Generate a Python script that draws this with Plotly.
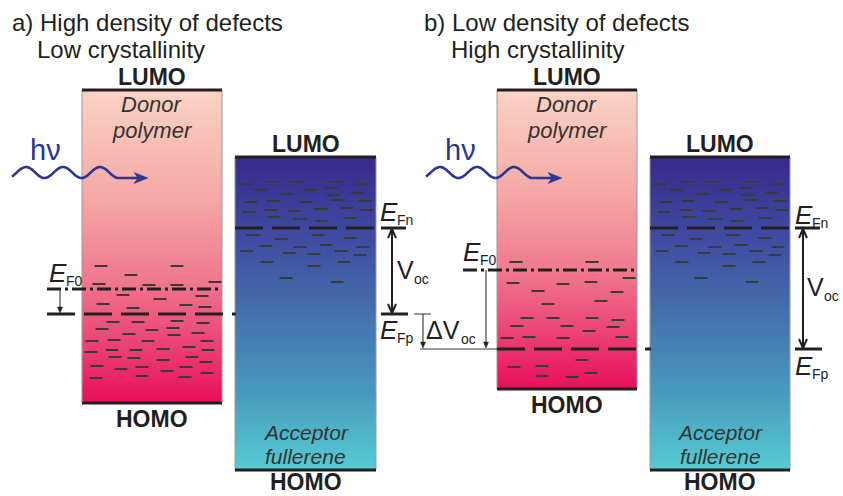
import numpy as np
import plotly.graph_objects as go

W, H = 843, 496

# ---------------- data (energy-diagram coordinates, y grows downward) ----------------
panels = ["a", "b"]
donor_left = [82, 497]
donor_right = [222, 637]
donor_lumo = [90, 90]
donor_homo = [403, 389]
acceptor_left = [235, 650]
acceptor_right = [376, 790]
acceptor_lumo = [157, 157]
acceptor_homo = [470, 470]
ef0_level = [289, 270]          # dark Fermi level in donor
efp_level = [314, 349]          # quasi-Fermi level of holes
efn_level = [228, 228]          # quasi-Fermi level of electrons

titles_line1 = ["a) High density of defects", "b) Low density of defects"]
titles_line2 = ["Low crystallinity", "High crystallinity"]

# defect (trap) states in the donor, panel a
donor_a_x = [101, 177, 131, 99, 149, 177, 215, 123, 202, 160, 103, 186, 205, 133, 113, 138, 177, 203,
             102, 152, 173, 129, 174, 198, 92, 114, 148, 207, 91, 112, 136, 163, 189, 208, 115, 134,
             192, 163, 206, 97, 121, 142, 186, 167, 207, 96, 142, 185]
donor_a_y = [266, 266, 275, 284, 285, 285, 282, 295, 296, 299, 304, 305, 307, 308, 322, 322, 321, 323,
             329, 330, 328, 334, 335, 333, 341, 340, 341, 341, 352, 350, 350, 349, 347, 350, 357, 358,
             357, 360, 362, 366, 369, 367, 367, 371, 373, 378, 376, 377]
# defect states in the donor, panel b
donor_b_x = [516, 592, 513, 563, 591, 629, 538, 617, 601, 548, 527, 553, 592, 618, 517, 567, 613, 589,
             507, 529, 563, 622, 582, 514, 542, 591, 542, 572]
donor_b_y = [262, 262, 283, 284, 282, 278, 291, 292, 301, 304, 318, 318, 318, 320, 326, 326, 327, 331,
             338, 337, 338, 337, 360, 367, 366, 373, 376, 377]
# defect states in the acceptor (offset from the acceptor's left edge), same in both panels
acc_dx = [10, 37, 62, 102, 127, 26, 75, 96, 52, 98, 122, 16, 38, 71, 102, 130, 14, 36, 59, 86, 112, 132,
          39, 65, 87, 115, 18, 46, 83, 115, 31, 65, 91, 128, 12, 54, 79, 106, 125, 32, 79, 109, 51, 102]
acc_y = [184, 182, 182, 182, 184, 190, 190, 188, 194, 195, 193, 202, 201, 202, 200, 201, 212, 210, 211,
         209, 208, 210, 217, 219, 221, 218, 235, 239, 235, 238, 246, 247, 245, 247, 251, 253, 254, 251,
         255, 262, 266, 262, 278, 282]

# ---------------- styling ----------------
FONT = "Liberation Sans, Arial, sans-serif"
INK = "#231f20"
DEF_COL = "#3a3a3a"
BLUE = "#2b3592"
donor_scale = [[0, "#fad3c4"], [0.35, "#f5a7a6"], [0.6, "#f07a8e"], [0.8, "#ec4677"], [1, "#e80f5c"]]
acc_scale = [[0, "#382a8b"], [0.25, "#3f4aa0"], [0.5, "#4570ae"], [0.75, "#4899bd"], [1, "#55cbd3"]]
DLEN = 13

fig = go.Figure()
ann = []


def gradient(x0, x1, y0, y1, scale, n=160):
    z = np.linspace(0, 1, n).reshape(-1, 1)
    fig.add_trace(go.Heatmap(z=z, x=[x0, x1], y=np.linspace(y0, y1, n + 1), colorscale=scale,
                             zmin=0, zmax=1, showscale=False, hoverinfo="skip", zsmooth=False))


def segs(xs0, xs1, ys, color, width, dash="solid"):
    X, Y = [], []
    for a, b, c in zip(xs0, xs1, ys):
        X += [a, b, None]
        Y += [c, c, None]
    fig.add_trace(go.Scatter(x=X, y=Y, mode="lines", line=dict(color=color, width=width, dash=dash),
                             hoverinfo="skip"))


def vline(x, y0, y1, color=INK, width=1.0):
    fig.add_trace(go.Scatter(x=[x, x], y=[y0, y1], mode="lines", line=dict(color=color, width=width),
                             hoverinfo="skip"))


def filled_head(x, ytip, up=False, w=3.0, h=7.0, color=INK):
    s = -1 if up else 1
    fig.add_trace(go.Scatter(x=[x - w, x, x + w, x - w], y=[ytip - s * h, ytip, ytip - s * h, ytip - s * h],
                             mode="lines", fill="toself", fillcolor=color, line=dict(color=color, width=0.5),
                             hoverinfo="skip"))


def open_arrow(x, y0, y1):
    # double-headed arrow with open (V) heads
    X = [x, x, None, x - 4, x, x + 4, None, x - 4, x, x + 4]
    Y = [y0, y1, None, y0 + 9, y0, y0 + 9, None, y1 - 9, y1, y1 - 9]
    fig.add_trace(go.Scatter(x=X, y=Y, mode="lines", line=dict(color=INK, width=2), hoverinfo="skip"))


def text(x, y, s, size, color=INK, bold=False, italic=False, xanchor="center", yanchor="middle"):
    if bold:
        s = "<b>" + s + "</b>"
    if italic:
        s = "<i>" + s + "</i>"
    ann.append(dict(x=x, y=y, xref="x", yref="y", text=s, showarrow=False, xanchor=xanchor,
                    yanchor=yanchor, borderpad=0, font=dict(family=FONT, size=size, color=color)))


def photon(x0, xtip, yc):
    lam, amp = 37.0, 5.5
    xs = np.linspace(x0, x0 + 106.5, 120)
    ys = yc - amp * np.cos(2 * np.pi * (xs - (x0 + 14)) / lam)
    xs = list(xs) + [xtip - 9]
    ys = list(ys) + [ys[-1]]
    fig.add_trace(go.Scatter(x=xs, y=ys, mode="lines", line=dict(color=BLUE, width=2.6, shape="spline"),
                             hoverinfo="skip"))
    yl = ys[-1]
    fig.add_trace(go.Scatter(x=[xtip, xtip - 14, xtip - 10, xtip - 14, xtip],
                             y=[yl, yl - 5.5, yl, yl + 5.5, yl], mode="lines", fill="toself",
                             fillcolor=BLUE, line=dict(color=BLUE, width=0.5), hoverinfo="skip"))


for i, p in enumerate(panels):
    dl, dr, al, ar = donor_left[i], donor_right[i], acceptor_left[i], acceptor_right[i]
    dc, ac = (dl + dr) / 2, (al + ar) / 2
    # bands
    gradient(dl, dr, donor_lumo[i], donor_homo[i], donor_scale)
    gradient(al, ar, acceptor_lumo[i], acceptor_homo[i], acc_scale)
    # thin side borders
    for xx, y0, y1 in [(dl, donor_lumo[i], donor_homo[i]), (dr, donor_lumo[i], donor_homo[i]),
                       (al, acceptor_lumo[i], acceptor_homo[i]), (ar, acceptor_lumo[i], acceptor_homo[i])]:
        vline(xx, y0, y1, color="#9a9a9a", width=1)
    # LUMO / HOMO edges
    segs([dl, dl, al, al], [dr, dr, ar, ar],
         [donor_lumo[i], donor_homo[i], acceptor_lumo[i], acceptor_homo[i]], INK, 3)
    # defect states
    dx = donor_a_x if p == "a" else donor_b_x
    dy = donor_a_y if p == "a" else donor_b_y
    segs([v - DLEN / 2 for v in dx], [v + DLEN / 2 for v in dx], dy, DEF_COL, 2)
    segs([al + v - DLEN / 2 for v in acc_dx], [al + v + DLEN / 2 for v in acc_dx], acc_y, DEF_COL, 2)

    # quasi Fermi level of electrons in acceptor + markers outside
    segs([al], [ar], [efn_level[i]], INK, 3, dash="28px,9px")
    segs([ar + 5, ar + 5], [ar + 30, ar + 32], [efn_level[i], efp_level[i]], INK, 3)
    open_arrow(ar + 16 + (0 if p == "a" else -3), efn_level[i] + 1, efp_level[i] - 1)

    # labels
    text(dc, 77, "LUMO", 23, bold=True)
    text(dc, donor_homo[i] + 16, "HOMO", 23, bold=True)
    text(ac, 144, "LUMO", 23, bold=True)
    text(ac, 496, "HOMO", 23, bold=True, yanchor="bottom")
    text(dc, 104, "Donor", 22, color="#333333", italic=True)
    text(dc, 130, "polymer", 22, color="#333333", italic=True)
    text(ac, 432, "Acceptor", 21, color="#333333", italic=True)
    text(ac, 456, "fullerene", 21, color="#333333", italic=True)

# ---- panel a specific lines ----
segs([47], [222], [ef0_level[0]], INK, 3, dash="14px,4px,3px,4px")
segs([47], [236], [efp_level[0]], INK, 3, dash="28px,9px")
vline(60, ef0_level[0] + 1, efp_level[0] - 6, width=1)
filled_head(60, efp_level[0] - 1, w=2.5, h=6)
# delta Voc marker
segs([414, 420], [431, 497], [efp_level[0], efp_level[1]], INK, 0.9)
vline(423, efp_level[0], efp_level[1] - 6, width=1)
filled_head(423, efp_level[1] - 1, w=2.5, h=6)

# ---- panel b specific lines ----
segs([463], [637], [ef0_level[1]], INK, 3, dash="14px,4px,3px,4px")
segs([497], [651], [efp_level[1]], INK, 3, dash="28px,9px")
vline(486, ef0_level[1], efp_level[1] - 6, width=1)
filled_head(486, efp_level[1] - 1, w=2.5, h=6)

# photons
photon(12, 148, 172.5)
photon(426, 562, 172.5)
text(45, 150, "hν", 29, color=BLUE)
text(460, 150, "hν", 29, color=BLUE)

# titles
text(11, 22, titles_line1[0], 24, xanchor="left")
text(36, 49, titles_line2[0], 24, xanchor="left")
text(423, 22, titles_line1[1], 24, xanchor="left")
text(450, 49, titles_line2[1], 24, xanchor="left")


# Fermi level labels
def elabel(xe, ye, sub):
    text(xe, ye, "E", 26, italic=True, xanchor="left")
    text(xe + 17, ye + 8, sub, 14, xanchor="left")


elabel(379, 212, "Fn")
elabel(379, 330, "Fp")
elabel(48, 273, "F0")
elabel(462, 252, "F0")
elabel(794, 215, "Fn")
elabel(794, 366, "Fp")


def vlabel(xv, yv, delta=False):
    text(xv, yv, ("Δ" if delta else "") + "V", 25, xanchor="left")
    text(xv + (35 if delta else 17), yv + 9, "oc", 14, xanchor="left")


vlabel(396, 270)
vlabel(425, 330, delta=True)
vlabel(806, 287)

fig.update_layout(
    width=W, height=H, margin=dict(l=0, r=0, t=0, b=0),
    paper_bgcolor="white", plot_bgcolor="white", showlegend=False,
    xaxis=dict(range=[0, W], visible=False, fixedrange=True),
    yaxis=dict(range=[H, 0], visible=False, fixedrange=True),
    annotations=ann,
)

fig.write_html("out.html", config={"displayModeBar": False},
               post_script="document.body.style.margin='0';document.body.style.overflow='hidden';")
